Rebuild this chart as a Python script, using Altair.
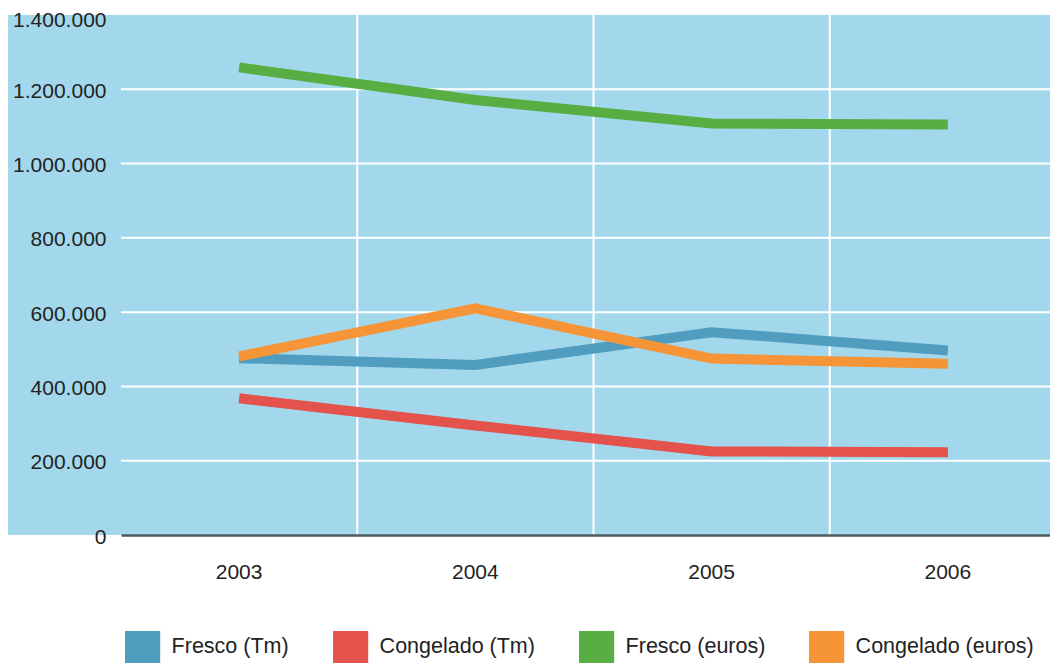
import altair as alt
import pandas as pd

years = ["2003", "2004", "2005", "2006"]
series_names = ["Fresco (Tm)", "Congelado (Tm)", "Fresco (euros)", "Congelado (euros)"]
fresco_tm = [476000, 458000, 546000, 497000]
congelado_tm = [368000, 295000, 225000, 223000]
fresco_euros = [1259000, 1171000, 1108000, 1105000]
congelado_euros = [481000, 610000, 475000, 461000]
series_colors = ["#519dbf", "#e4524c", "#58ae42", "#f59538"]
y_ticks = [0, 200000, 400000, 600000, 800000, 1000000, 1200000, 1400000]
y_grid = [200000, 400000, 600000, 800000, 1000000, 1200000]

all_values = [fresco_tm, congelado_tm, fresco_euros, congelado_euros]
rows = []
for name, vals in zip(series_names, all_values):
    for yr, v in zip(years, vals):
        rows.append({"year": yr, "serie": name, "value": v})
df = pd.DataFrame(rows)

W = 929
H = 520
LEFT = 113
BG = "#a3d8ec"
FONT = "Liberation Sans"
TXT = "#222222"

x_scale = alt.Scale(domain=years, paddingInner=0, paddingOuter=0, range=[0, 945])
y_scale = alt.Scale(domain=[0, 1400000], nice=False)

x_axis = alt.Axis(labelAngle=0, ticks=False, tickSize=0, domain=True,
                  domainColor="#4f5a60", domainWidth=2.5, grid=False,
                  labelPadding=26, labelFontSize=21, labelFont=FONT,
                  labelColor=TXT, zindex=1)
y_axis = alt.Axis(values=y_ticks, grid=False, ticks=False, tickSize=0,
                  domain=False, labelPadding=15, labelFontSize=21,
                  labelFont=FONT, labelColor=TXT, zindex=1,
                  labelOffset={"condition": {"test": "datum.value >= 1400000", "value": 5},
                               "value": 2},
                  labelExpr="replace(replace(format(datum.value, ','), ',', '.'), ',', '.')")

strip = alt.Chart(alt.Data(values=[{"a": 1}])).mark_rect(color=BG).encode(
    x=alt.value(-LEFT), x2=alt.value(0), y=alt.value(0), y2=alt.value(H)
)

hgrid = alt.Chart(pd.DataFrame({"g": y_grid})).mark_rule(color="white", strokeWidth=2).encode(
    y=alt.Y("g:Q", scale=y_scale, title=None, axis=y_axis),
    x=alt.value(0), x2=alt.value(W),
)

vgrid = alt.Chart(pd.DataFrame({"year": years})).mark_rule(color="white", strokeWidth=2).encode(
    x=alt.X("year:N", scale=x_scale, bandPosition=1, title=None, axis=x_axis),
    y=alt.value(0), y2=alt.value(H),
)

keys = alt.Chart(df).mark_square(size=1, filled=True).encode(
    x=alt.X("year:N", scale=x_scale, title=None, axis=x_axis),
    y=alt.Y("value:Q", scale=y_scale, title=None, axis=y_axis),
    fill=alt.Fill("serie:N", title=None,
                  scale=alt.Scale(domain=series_names, range=series_colors),
                  legend=alt.Legend(orient="none", direction="horizontal",
                                    legendX=5.6, legendY=616, padding=0,
                                    symbolType="M-1.1,-1H1.1V1H-1.1Z",
                                    symbolSize=1024, symbolStrokeWidth=0,
                                    symbolOpacity=1,
                                    labelFontSize=21.5, labelFont=FONT,
                                    labelColor=TXT, labelOffset=13,
                                    columnPadding=43, labelLimit=400)),
)

lines = alt.Chart(df).mark_line(strokeWidth=10, strokeCap="butt", strokeJoin="miter").encode(
    x=alt.X("year:N", scale=x_scale, title=None, axis=x_axis),
    y=alt.Y("value:Q", scale=y_scale, title=None, axis=y_axis),
    color=alt.Color("serie:N", legend=None,
                    scale=alt.Scale(domain=series_names, range=series_colors)),
    order=alt.Order("year:N"),
)

chart = alt.layer(strip, hgrid, vgrid, keys, lines).properties(
    width=W, height=H,
    background="white",
    autosize=alt.AutoSizeParams(type="none"),
    padding={"left": LEFT, "top": 7, "right": 0, "bottom": 132},
).configure_view(fill=BG, stroke=None)

chart.save("out.html", embed_options={"renderer": "svg", "actions": False})
